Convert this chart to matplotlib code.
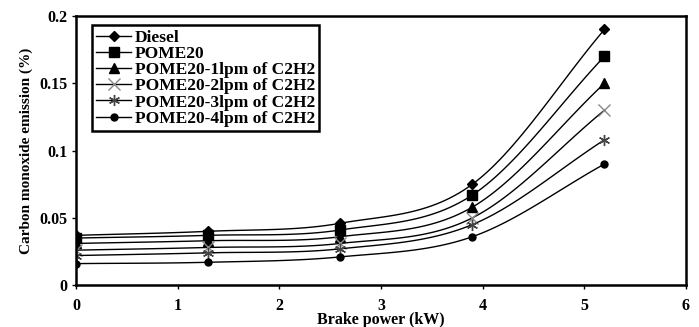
import matplotlib

matplotlib.use("Agg")
import matplotlib.pyplot as plt
import numpy as np
from matplotlib.lines import Line2D

plt.rcParams["font.family"] = ["Liberation Serif", "DejaVu Serif"]
plt.rcParams["font.weight"] = "bold"

power = [0, 1.3, 2.6, 3.9, 5.2]
diesel = [0.037, 0.040, 0.046, 0.075, 0.190]
pome20 = [0.035, 0.037, 0.041, 0.067, 0.170]
lpm1 = [0.031, 0.033, 0.036, 0.058, 0.150]
lpm2 = [0.026, 0.028, 0.031, 0.050, 0.130]
lpm3 = [0.022, 0.024, 0.027, 0.045, 0.108]
lpm4 = [0.016, 0.017, 0.021, 0.036, 0.090]

labels = ["Diesel", "POME20", "POME20-1lpm of C2H2", "POME20-2lpm of C2H2",
          "POME20-3lpm of C2H2", "POME20-4lpm of C2H2"]
series = [diesel, pome20, lpm1, lpm2, lpm3, lpm4]
markers = ["D", "s", "^", "x", (6, 2, 0), "o"]
msizes = [5, 6.5, 6.5, 8, 8, 5]
mcolors = ["black", "black", "black", "#888888", "#444444", "black"]


def smooth(x, y, n=30):
    # Catmull-Rom style smoothing, like spreadsheet "smoothed line"
    x = np.asarray(x, float)
    y = np.asarray(y, float)
    px = np.concatenate([[2 * x[0] - x[1]], x, [2 * x[-1] - x[-2]]])
    py = np.concatenate([[2 * y[0] - y[1]], y, [2 * y[-1] - y[-2]]])
    xs, ys = [], []
    t = np.linspace(0, 1, n)
    for i in range(1, len(px) - 2):
        for p, out in ((px, xs), (py, ys)):
            p0, p1, p2, p3 = p[i - 1], p[i], p[i + 1], p[i + 2]
            b1 = p1 + (p2 - p0) / 6
            b2 = p2 - (p3 - p1) / 6
            out.append((1 - t) ** 3 * p1 + 3 * (1 - t) ** 2 * t * b1
                       + 3 * (1 - t) * t ** 2 * b2 + t ** 3 * p2)
    return np.concatenate(xs), np.concatenate(ys)


fig = plt.figure(figsize=(6.99, 3.27), dpi=100)
ax = fig.add_axes([0.109, 0.128, 0.872, 0.823])

handles = []
for y, lab, m, ms, mc in zip(series, labels, markers, msizes, mcolors):
    sx, sy = smooth(power, y)
    ax.plot(sx, sy, color="black", lw=1.0)
    ax.plot(power, y, ls="none", marker=m, ms=ms, color=mc, mec=mc, mew=1.0)
    handles.append(Line2D([], [], color="black", lw=1.0, marker=m, ms=ms,
                          mfc=mc, mec=mc, mew=1.0))

ax.set_xlim(0, 6)
ax.set_ylim(0, 0.2)
ax.set_xticks(range(7))
ax.set_yticks([0, 0.05, 0.1, 0.15, 0.2])
ax.set_yticklabels(["0", "0.05", "0.1", "0.15", "0.2"])
ax.tick_params(direction="out", length=3, width=1, labelsize=11.5)
for lab in ax.get_xticklabels() + ax.get_yticklabels():
    lab.set_fontweight("bold")
ax.tick_params(axis="x", pad=6)
for s in ax.spines.values():
    s.set_linewidth(1.8)

ax.set_xlabel("Brake power (kW)", fontsize=11.5, fontweight="bold", labelpad=0)
ax.xaxis.set_label_coords(0.5, -0.1)
ax.set_ylabel("Carbon monoxide emission (%)", fontsize=11, fontweight="bold")

leg = ax.legend(handles, labels, loc="upper left", bbox_to_anchor=(0.026, 0.965),
                fancybox=False, edgecolor="black", framealpha=1, fontsize=12.5,
                handlelength=2.0, handletextpad=0.2, labelspacing=0.0,
                borderpad=0.25, borderaxespad=0)
leg.get_frame().set_linewidth(1.8)
for t in leg.get_texts():
    t.set_fontweight("bold")

fig.savefig("out.png", dpi=100)
